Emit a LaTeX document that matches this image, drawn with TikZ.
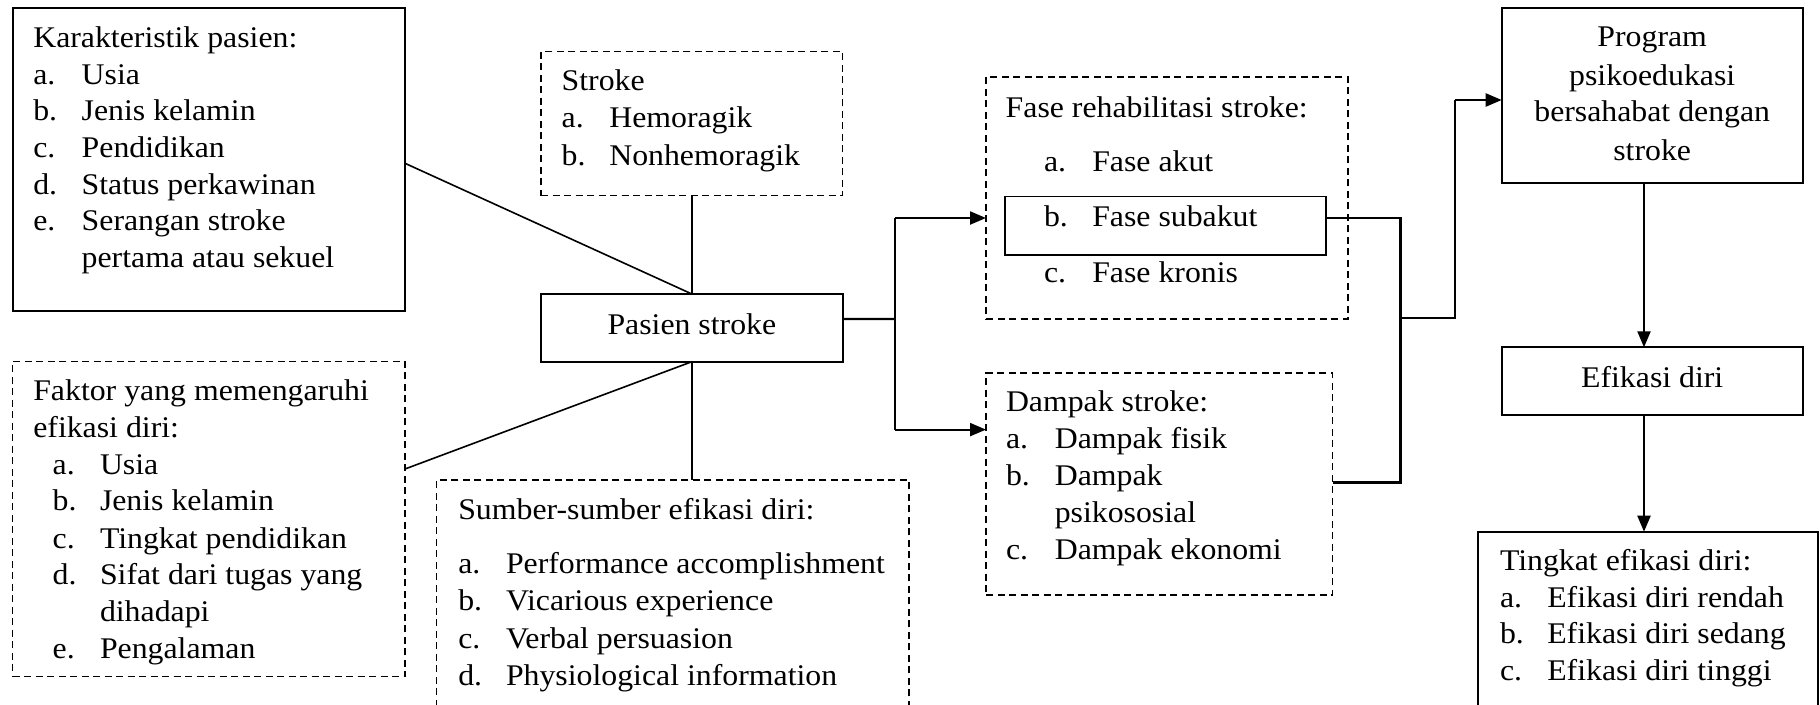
\documentclass[tikz,border=0pt]{standalone}
\usepackage{fontspec}
\setmainfont{Liberation Serif}[FakeStretch=1.06]
\usetikzlibrary{arrows.meta}
\tikzset{
  solidbox/.style={draw=black, line width=1.8pt, rectangle, inner sep=0pt, outer sep=0pt},
  dashbox/.style={draw=black, line width=1.5pt, dash pattern=on 7pt off 4.5pt, rectangle, inner sep=0pt, outer sep=0pt},
  txt/.style={inner sep=0pt, outer sep=0pt, anchor=base west, font=\fontsize{30}{36}\selectfont},
  ctxt/.style={txt, anchor=base},
  thin/.style={line width=1.3pt},
  mid/.style={line width=1.6pt},
  thick/.style={line width=2.2pt},
  arr/.style={line width=2.2pt, -{Triangle[length=16pt,width=13pt]}}
}
\begin{document}
\begin{tikzpicture}[x=1pt, y=-1pt]
\useasboundingbox (0,0) rectangle (1820,704);
\fill[white] (0,0) rectangle (1820,704);
\clip (0,0) rectangle (1820,704);

% boxes
\node[solidbox, minimum width=392.3pt, minimum height=302.4pt] (kar) at (208.85,159.5) {};
\node[dashbox, minimum width=301.7pt, minimum height=144pt] (str) at (691.85,123.7) {};
\node[solidbox, minimum width=301.7pt, minimum height=67.7pt] (pas) at (691.85,327.85) {};
\node[dashbox, minimum width=392.3pt, minimum height=315.4pt] (fak) at (208.85,519) {};
\node[dashbox, minimum width=472.3pt, minimum height=250pt] (sum) at (672.85,605) {};
\node[dashbox, minimum width=361.8pt, minimum height=242pt] (fas) at (1166.9,198) {};
\node[solidbox, minimum width=320.6pt, minimum height=58.2pt] (sub) at (1165.3,225.5) {};
\node[dashbox, minimum width=346.7pt, minimum height=221.8pt] (dam) at (1159.35,484.1) {};
\node[solidbox, minimum width=301pt, minimum height=174.4pt] (prog) at (1652.2,95.5) {};
\node[solidbox, minimum width=301pt, minimum height=67.7pt] (efi) at (1652.2,381.15) {};
\node[solidbox, minimum width=339.7pt, minimum height=188.3pt] (tin) at (1648.15,625.85) {};

% texts: Karakteristik
\node[txt] (k0) at (33.3,47.7) {Karakteristik pasien:};
\node[txt] (k1a) at (33.3,84.3) {a.};   \node[txt] (k1) at (81.7,84.3) {Usia};
\node[txt] (k2a) at (33.3,120.9) {b.};  \node[txt] (k2) at (81.7,120.9) {Jenis kelamin};
\node[txt] (k3a) at (33.3,157.5) {c.};  \node[txt] (k3) at (81.7,157.5) {Pendidikan};
\node[txt] (k4a) at (33.3,194.1) {d.};  \node[txt] (k4) at (81.7,194.1) {Status perkawinan};
\node[txt] (k5a) at (33.3,230.7) {e.};  \node[txt] (k5) at (81.7,230.7) {Serangan stroke};
\node[txt] (k6) at (81.7,267.3) {pertama atau sekuel};

% Stroke
\node[txt] (s0) at (561.7,90.7) {Stroke};
\node[txt] (s1a) at (561.7,127.7) {a.}; \node[txt] (s1) at (609.3,127.7) {Hemoragik};
\node[txt] (s2a) at (561.7,165) {b.};   \node[txt] (s2) at (609.3,165) {Nonhemoragik};

% Pasien
\node[ctxt] (p0) at (691.85,334) {Pasien stroke};

% Faktor
\node[txt] (f0) at (33.3,400.7) {Faktor yang memengaruhi};
\node[txt] (f0b) at (33.3,437.3) {efikasi diri:};
\node[txt] (f1a) at (52.7,474) {a.};    \node[txt] (f1) at (100,474) {Usia};
\node[txt] (f2a) at (52.7,510.7) {b.};  \node[txt] (f2) at (100,510.7) {Jenis kelamin};
\node[txt] (f3a) at (52.7,548.3) {c.};  \node[txt] (f3) at (100,548.3) {Tingkat pendidikan};
\node[txt] (f4a) at (52.7,584) {d.};    \node[txt] (f4) at (100,584) {Sifat dari tugas yang};
\node[txt] (f5) at (100,621.7) {dihadapi};
\node[txt] (f6a) at (52.7,658) {e.};    \node[txt] (f6) at (100,658) {Pengalaman};

% Sumber
\node[txt] (m0) at (458.3,519) {Sumber-sumber efikasi diri:};
\node[txt] (m1a) at (458.3,573) {a.};   \node[txt] (m1) at (506,573) {Performance accomplishment};
\node[txt] (m2a) at (458.3,610.7) {b.}; \node[txt] (m2) at (506,610.7) {Vicarious experience};
\node[txt] (m3a) at (458.3,648) {c.};   \node[txt] (m3) at (506,648) {Verbal persuasion};
\node[txt] (m4a) at (458.3,685) {d.};   \node[txt] (m4) at (506,685) {Physiological information};

% Fase
\node[txt] (r0) at (1005.7,117) {Fase rehabilitasi stroke:};
\node[txt] (r1a) at (1044,171.8) {a.};  \node[txt] (r1) at (1092.3,171.8) {Fase akut};
\node[txt] (r2a) at (1044,226.8) {b.};  \node[txt] (r2) at (1092.3,226.8) {Fase subakut};
\node[txt] (r3a) at (1044,282) {c.};    \node[txt] (r3) at (1092.3,282) {Fase kronis};

% Dampak
\node[txt] (d0) at (1006,411.8) {Dampak stroke:};
\node[txt] (d1a) at (1006,448.6) {a.};  \node[txt] (d1) at (1054.8,448.6) {Dampak fisik};
\node[txt] (d2a) at (1006,485.7) {b.};  \node[txt] (d2) at (1054.8,485.7) {Dampak};
\node[txt] (d3) at (1054.8,522.5) {psikososial};
\node[txt] (d4a) at (1006,559.3) {c.};  \node[txt] (d4) at (1054.8,559.3) {Dampak ekonomi};

% Program
\node[ctxt] (g1) at (1652.2,46.7) {Program};
\node[ctxt] (g2) at (1652.2,85) {psikoedukasi};
\node[ctxt] (g3) at (1652.2,121.7) {bersahabat dengan};
\node[ctxt] (g4) at (1652.2,160) {stroke};

% Efikasi
\node[ctxt] (e0) at (1652.2,387.3) {Efikasi diri};

% Tingkat
\node[txt] (t0) at (1500,570.7) {Tingkat efikasi diri:};
\node[txt] (t1a) at (1500,607.3) {a.};  \node[txt] (t1) at (1547.3,607.3) {Efikasi diri rendah};
\node[txt] (t2a) at (1500,643.3) {b.};  \node[txt] (t2) at (1547.3,643.3) {Efikasi diri sedang};
\node[txt] (t3a) at (1500,680.7) {c.};  \node[txt] (t3) at (1547.3,680.7) {Efikasi diri tinggi};

% connectors around Pasien stroke
\draw[mid] ([yshift=-3.8pt]kar.east) -- (pas.north);
\draw[thin] (str.south) -- (pas.north);
\draw[mid] ([yshift=50pt]fak.east) -- (pas.south);
\draw[thin] (pas.south) -- (pas.south |- sum.north);

% left bracket
\coordinate (lb) at (895,319);
\coordinate (lbt) at (895,218);
\coordinate (lbb) at (895,429.6);
\draw[thick] ([yshift=8.8pt]pas.east) -- (lb);
\draw[thick] (lbt) -- (lbb);
\draw[arr] (lbt) -- (lbt -| fas.west);
\draw[arr] (lbb) -- (lbb -| dam.west);

% right bracket
\coordinate (rbt) at (1400.4,217.9);
\coordinate (rbb) at (1400.4,482.5);
\coordinate (rbm) at (1400.4,317.9);
\coordinate (rbk) at (1455.3,317.9);
\coordinate (rbu) at (1455.3,100);
\draw[thick] ([yshift=7.6pt]sub.east) -- (rbt) -- (rbb) -- (rbb -| dam.east);
\draw[thick] (rbm) -- (rbk) -- (rbu);
\draw[arr] (rbu) -- (rbu -| prog.west);

% right column arrows
\draw[arr] ([xshift=-8.2pt]prog.south) -- ([xshift=-8.2pt]prog.south |- efi.north);
\draw[arr] ([xshift=-8.2pt]efi.south) -- ([xshift=-8.2pt]efi.south |- tin.north);
\end{tikzpicture}
\end{document}
